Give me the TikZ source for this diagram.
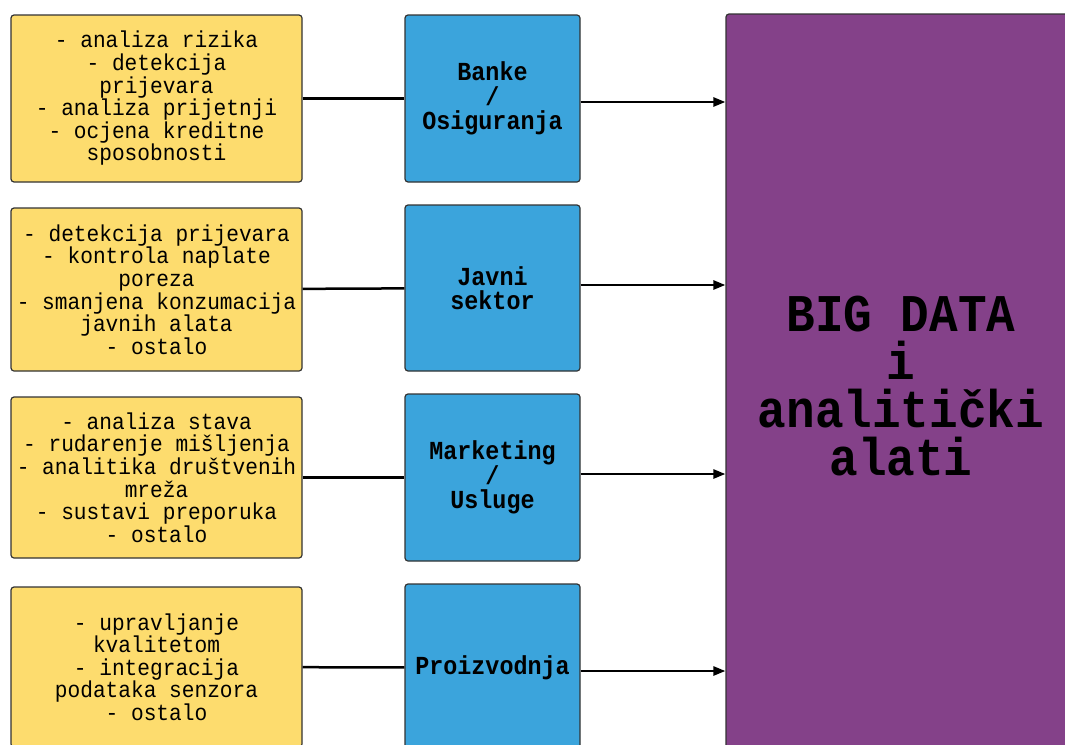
\documentclass[tikz,border=0pt]{standalone}
\usepackage{fontspec}
\newfontfamily\monofont[FakeStretch=0.9]{Liberation Mono}
\newfontfamily\listfont[FakeStretch=0.92]{Liberation Mono}
\usetikzlibrary{arrows.meta}
\definecolor{zuta}{HTML}{FDDC6E}
\definecolor{plava}{HTML}{3BA4DC}
\definecolor{ljubicasta}{HTML}{844189}
\definecolor{rub}{HTML}{333333}
\begin{document}
\begin{tikzpicture}[x=1pt,y=-1pt]
  \tikzstyle{primjena}=[draw=rub,line width=1.2pt,rounded corners=3pt,fill=zuta,
    minimum width=291pt,align=center,font=\listfont\fontsize{23}{22.6}\selectfont]
  \tikzstyle{sektor}=[draw=rub,line width=1.2pt,rounded corners=3pt,fill=plava,
    minimum width=175pt,align=center,font=\monofont\bfseries\fontsize{26}{24.5}\selectfont]
  \tikzstyle{alati}=[draw=rub,line width=1.2pt,rounded corners=3pt,fill=ljubicasta,
    minimum width=350pt,minimum height=744pt,align=center,
    font=\monofont\bfseries\fontsize{53}{48}\selectfont]
  \tikzstyle{veza}=[line width=2.5pt]
  \tikzstyle{strelica}=[line width=2.5pt,-{Triangle[length=12pt,width=9pt]}]
  \clip (0,0) rectangle (1065,744);
  \fill[white] (0,0) rectangle (1065,744);
  \node[primjena,minimum height=167pt] (p1) at (156.5,98.5)
    {- analiza rizika\\- detekcija\\prijevara\\- analiza prijetnji\\- ocjena kreditne\\sposobnosti};
  \node[primjena,minimum height=163pt] (p2) at (156.5,289.5)
    {- detekcija prijevara\\- kontrola naplate\\poreza\\- smanjena konzumacija\\javnih alata\\- ostalo};
  \node[primjena,minimum height=161pt] (p3) at (156.5,477.5)
    {- analiza stava\\- rudarenje mišljenja\\- analitika društvenih\\mreža\\- sustavi preporuka\\- ostalo};
  \node[primjena,minimum height=160pt] (p4) at (156.5,667)
    {- upravljanje\\kvalitetom\\- integracija\\podataka senzora\\- ostalo};
  \node[sektor,minimum height=167pt] (s1) at (492.5,98.5) {Banke\\/\\Osiguranja};
  \node[sektor,minimum height=166pt] (s2) at (492.5,288) {Javni\\sektor};
  \node[sektor,minimum height=167pt] (s3) at (492.5,477.5) {Marketing\\/\\Usluge};
  \node[sektor,minimum height=167pt] (s4) at (492.5,667.5) {Proizvodnja};
  \node[alati] (big) at (901,386) {BIG DATA\\i\\analitički\\alati};
  \draw[veza] (p1) -- (s1);
  \draw[veza] (p2) -- (s2);
  \draw[veza] (p3) -- (s3);
  \draw[veza] (p4) -- (s4);
  \draw[strelica] ([yshift=-3.5pt]s1.east) -- ([yshift=-3.5pt]s1.east -| big.west);
  \draw[strelica] ([yshift=3pt]s2.east) -- ([yshift=3pt]s2.east -| big.west);
  \draw[strelica] ([yshift=3.5pt]s3.east) -- ([yshift=3.5pt]s3.east -| big.west);
  \draw[strelica] ([yshift=-3.5pt]s4.east) -- ([yshift=-3.5pt]s4.east -| big.west);
\end{tikzpicture}
\end{document}
